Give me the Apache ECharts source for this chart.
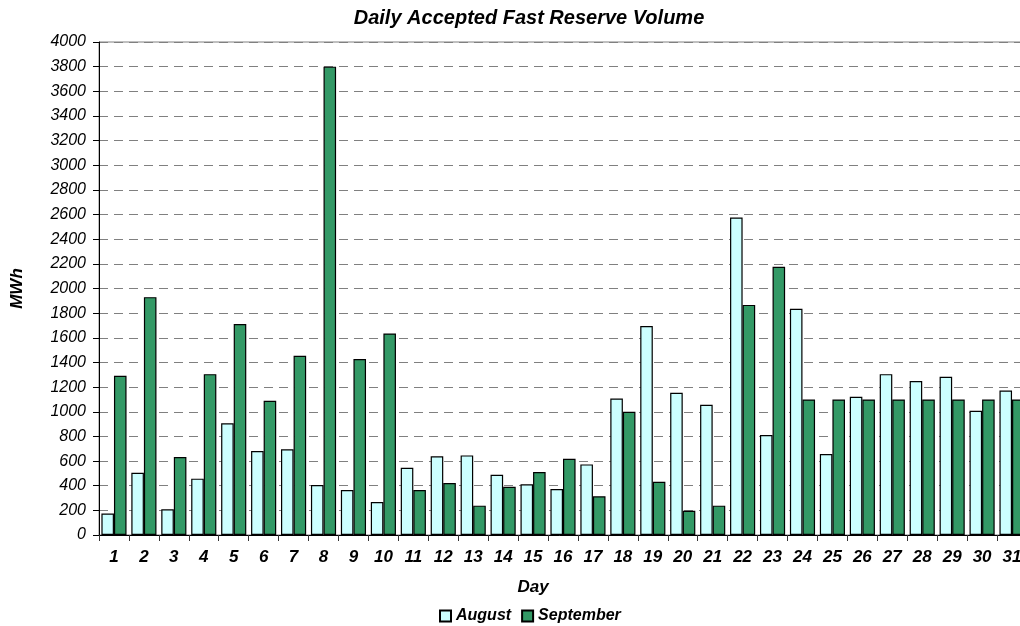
<!DOCTYPE html>
<html>
<head>
<meta charset="utf-8">
<script src="https://cdn.jsdelivr.net/npm/echarts@6/dist/echarts.min.js"></script>
<style>
html,body{margin:0;padding:0;background:#fff;}
#chart{width:1020px;height:626px;}
</style>
</head>
<body>
<div id="chart"></div>
<script>
const days = ['1','2','3','4','5','6','7','8','9','10','11','12','13','14','15','16','17','18','19','20','21','22','23','24','25','26','27','28','29','30','31'];
const august = [175, 505, 208, 457, 906, 681, 695, 405, 365, 268, 546, 638, 646, 489, 411, 373, 573, 1108, 1695, 1154, 1057, 2576, 811, 1835, 657, 1121, 1305, 1249, 1284, 1008, 1173];
const september = [1292, 1930, 632, 1305, 1711, 1089, 1454, 3800, 1427, 1635, 365, 422, 238, 392, 511, 619, 314, 1000, 432, 197, 238, 1867, 2176, 1100, 1100, 1100, 1100, 1100, 1100, 1100, 1100];
const yMin = 0, yMax = 4000, yStep = 200;

const FONT = '"Liberation Sans", Arial, sans-serif';
const chart = echarts.init(document.getElementById('chart'), null, {renderer: 'canvas'});
chart.setOption({
  animation: false,
  backgroundColor: '#ffffff',
  textStyle: {fontFamily: FONT},
  title: [
    {text: 'Daily Accepted Fast Reserve Volume', left: 524, top: 3, textAlign: 'center',
     textStyle: {fontFamily: FONT, fontSize: 20, fontWeight: 'bold', fontStyle: 'italic', color: '#000'}},
    {text: 'Day', left: 528, top: 574, textAlign: 'center',
     textStyle: {fontFamily: FONT, fontSize: 17, fontWeight: 'bold', fontStyle: 'italic', color: '#000'}}
  ],
  legend: {
    left: 434, top: 603,
    itemWidth: 11, itemHeight: 11, itemGap: 10,
    icon: 'rect',
    textStyle: {fontFamily: FONT, fontSize: 16, fontWeight: 'bold', fontStyle: 'italic', color: '#000'},
    data: ['August', 'September']
  },
  grid: {left: 99, top: 42, bottom: 91, right: -7, containLabel: false, outerBoundsMode: 'none',
    show: true, borderColor: '#808080', borderWidth: 1, backgroundColor: 'transparent'},
  xAxis: {
    type: 'category', data: days,
    axisLine: {lineStyle: {color: '#000', width: 1}},
    axisTick: {show: true, length: 6, alignWithLabel: false, lineStyle: {color: '#333'}},
    axisLabel: {fontFamily: FONT, fontSize: 17, fontWeight: 'bold', fontStyle: 'italic', color: '#000', margin: 14, interval: 0}
  },
  yAxis: {
    type: 'value', min: yMin, max: yMax, interval: yStep,
    name: 'MWh', nameLocation: 'middle', nameGap: 73, nameRotate: 90,
    nameTextStyle: {fontFamily: FONT, fontSize: 17, fontWeight: 'bold', fontStyle: 'italic', color: '#000'},
    axisLine: {show: true, lineStyle: {color: '#000', width: 1}},
    axisTick: {show: true, length: 6, lineStyle: {color: '#000'}},
    axisLabel: {fontFamily: FONT, fontSize: 16, fontStyle: 'italic', color: '#000', margin: 13,
      formatter: function (v) { return String(v); }},
    splitLine: {show: true, lineStyle: {color: '#808080', type: [9, 6], width: 1}}
  },
  series: [
    {name: 'August', type: 'bar', data: august, barGap: '0%', barCategoryGap: '16%',
     itemStyle: {color: '#CCFFFF', borderColor: '#000', borderWidth: 1.2}},
    {name: 'September', type: 'bar', data: september, barGap: '0%', barCategoryGap: '16%',
     itemStyle: {color: '#339966', borderColor: '#000', borderWidth: 1.2}}
  ]
});
</script>
</body>
</html>
